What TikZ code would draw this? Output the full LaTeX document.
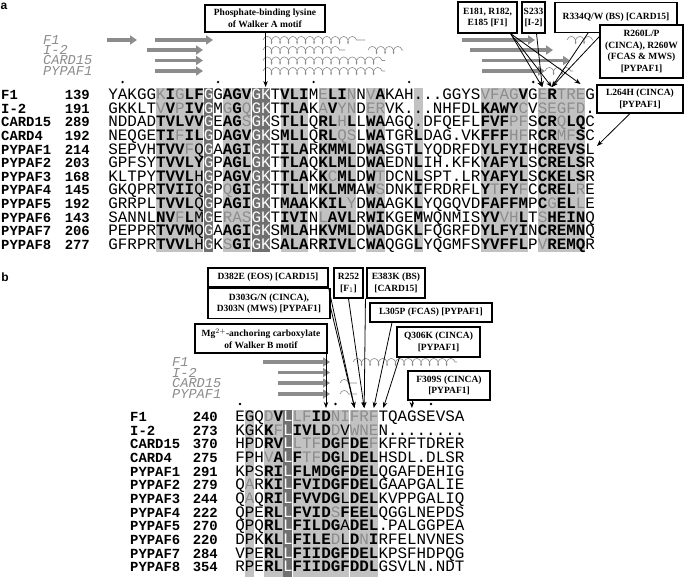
\documentclass[tikz,border=0pt]{standalone}
\usepackage{fontspec}
\usetikzlibrary{arrows.meta,decorations.pathmorphing}
\newfontfamily\seqf{Liberation Mono}
\newfontfamily\boxf{Liberation Serif}
\newfontfamily\panf{Liberation Sans}
\definecolor{bandlt}{gray}{0.76}
\definecolor{banddk}{gray}{0.44}
\definecolor{resgray}{gray}{0.55}
\definecolor{ssgray}{gray}{0.55}
\newcommand\rbf[1]{\textbf{#1}}
\newcommand\rgr[1]{\textcolor{resgray}{#1}}
\newcommand\rwt[1]{\textcolor{white}{#1}}

\begin{document}
\begin{tikzpicture}[x=1pt, y=-1pt,
  seq/.style={anchor=base west, inner sep=0pt, font=\seqf\fontsize{15.9}{16}\selectfont},
  seqname/.style={anchor=base west, inner sep=0pt, font=\seqf\bfseries\fontsize{13.9}{14}\selectfont},
  seqnum/.style={seqname, anchor=base east},
  sslabel/.style={anchor=west, inner sep=0pt, text=ssgray, font=\seqf\itshape\fontsize{13.6}{14}\selectfont},
  strand/.style={draw=ssgray, line width=3.2pt, -{Triangle[length=7pt,width=9pt]}},
  helix/.style={draw=ssgray, line width=0.6pt, decorate, decoration={coil, aspect=0.6, segment length=8.5pt, amplitude=3.6pt}},
  callout/.style={draw, line width=1.1pt, fill=white, align=center, inner sep=1pt, font=\boxf\bfseries\fontsize{9.5}{11.5}\selectfont},
  pointer/.style={draw, line width=0.8pt, -{Stealth[length=6pt,width=4.5pt]}},
  panel/.style={inner sep=0pt, font=\panf\bfseries\fontsize{12}{12}\selectfont},
  dot/.style={circle, fill, inner sep=0pt, minimum size=2.6pt}]
\useasboundingbox (0,0) rectangle (685,576);
\fill[white] (0,0) rectangle (685,576);

% ---- panel a ----
\node[panel] (pa) at (4,6) {a};

% column shading
\foreach \c/\w in {6/5,13/3,19/3,23/4,28/2,33/1,40/5,46/5}
  \fill[bandlt] ({108.6+(\c-1)*9.55},87.5) rectangle ++({\w*9.55-0.8},164);
\foreach \c/\w in {11/1,16/2}
  \fill[banddk] ({108.6+(\c-1)*9.55},87.5) rectangle ++({\w*9.55-0.8},164);

% secondary structure
\node[sslabel] (ssa1) at (43,40) {F1};
\node[sslabel] (ssa2) at (43,50) {I-2};
\node[sslabel] (ssa3) at (43,60.5) {CARD15};
\node[sslabel] (ssa4) at (43,71) {PYPAF1};
\draw[strand] (107,40) -- (137,40);
\draw[strand] (155,40) -- (213,40);
\draw[strand] (147,50) -- (203,50);
\draw[strand] (155,60.5) -- (203,60.5);
\draw[strand] (155,71) -- (203,71);
\draw[strand] (462,40) -- (535,40);
\draw[strand] (470,50) -- (553,50);
\draw[strand] (482,60.5) -- (570,60.5);
\draw[strand] (482,71) -- (545,71);
\draw[helix] (263,40) -- (365,40);
\draw[helix] (263,50) -- (345,50);
\draw[helix] (368,50) -- (403,50);
\draw[helix] (263,60.5) -- (385,60.5);
\draw[helix] (263,71) -- (385,71);
\draw[helix] (567,40) -- (593,40);
\draw[helix] (545,71) -- (573,71);

\foreach \c in {2,12,22,32,45}
  \node[dot] (da\c) at ({113+(\c-1)*9.55},82) {};

% alignment
\foreach \nm/\num [count=\i from 0] in {F1/139,I-2/191,CARD15/289,CARD4/192,PYPAF1/214,PYPAF2/203,PYPAF3/168,PYPAF4/145,PYPAF5/192,PYPAF6/143,PYPAF7/206,PYPAF8/277}
{
  \node[seqname] (na\i) at (1,{99.6+13.6*\i}) {\nm};
  \node[seqnum] (ia\i) at (90,{99.6+13.6*\i}) {\num};
}
\node[seq] (sa0) at (108.2,99.6) {YAKGG\rgr{K}\rbf{I}\rgr{G}\rbf{LF}\rwt{G}G\rbf{AGV}\rwt{GK}T\rbf{VLI}M\rgr{E}\rbf{LI}\rgr{N}N\rgr{V}\rbf{A}KAH...GGYS\rgr{VFAG}\rbf{V}G\rgr{E}\rbf{R}\rgr{TRE}G};
\node[seq] (sa1) at (108.2,113.2) {GKKLT\rgr{V}\rbf{V}\rgr{P}\rbf{IV}\rwt{G}M\rgr{G}\rbf{G}\rgr{Q}\rwt{GK}T\rbf{TLA}K\rgr{A}\rbf{V}\rgr{YN}D\rgr{ER}VK...NHFDL\rbf{KAWY}\rgr{C}V\rgr{SEGFD}.};
\node[seq] (sa2) at (108.2,126.8) {NDDAD\rbf{TVLVV}\rwt{G}E\rbf{AG}\rgr{S}\rwt{GK}S\rbf{TLL}Q\rbf{RL}\rgr{H}\rbf{L}L\rbf{WA}AGQ.DFQEFL\rbf{FVF}\rgr{PF}S\rbf{CR}\rgr{Q}\rbf{LQ}C};
\node[seq] (sa3) at (108.2,140.4) {NEQGE\rbf{TI}\rgr{F}\rbf{IL}\rwt{G}D\rbf{AGV}\rwt{GK}S\rbf{MLL}Q\rbf{RL}\rgr{QS}L\rbf{WA}TGR\rbf{L}DAG.VK\rbf{FFF}\rgr{HF}R\rbf{CR}\rgr{MF}\rbf{S}C};
\node[seq] (sa4) at (108.2,154.0) {SEPVH\rbf{TVV}\rgr{F}Q\rwt{G}A\rbf{AGI}\rwt{GK}T\rbf{ILA}R\rbf{KMML}D\rbf{WA}SGT\rbf{L}YQDRFD\rbf{YLFYI}H\rbf{CREVS}L};
\node[seq] (sa5) at (108.2,167.6) {GPFSY\rbf{TVVLY}\rwt{G}P\rbf{AGL}\rwt{GK}T\rbf{TLA}Q\rbf{KLML}D\rbf{WA}EDN\rbf{L}IH.KFK\rbf{YAFYL}S\rbf{CRELS}R};
\node[seq] (sa6) at (108.2,181.2) {KLTPY\rbf{TVVL}H\rwt{G}P\rbf{AGV}\rwt{GK}T\rbf{TLA}K\rbf{K}\rgr{C}\rbf{ML}D\rbf{W}\rgr{T}DCN\rbf{L}SPT.LR\rbf{YAFYL}S\rbf{CKELS}R};
\node[seq] (sa7) at (108.2,194.8) {GKQPR\rbf{TVII}Q\rwt{G}P\rgr{Q}\rbf{GI}\rwt{GK}T\rbf{TLL}M\rbf{KLMM}A\rbf{W}\rgr{S}DNK\rbf{I}FRDRFL\rbf{Y}\rgr{T}\rbf{FY}\rgr{F}C\rbf{CREL}\rgr{R}E};
\node[seq] (sa8) at (108.2,208.4) {GRRPL\rbf{TVVL}Q\rwt{G}P\rbf{AGI}\rwt{GK}T\rbf{MAA}K\rbf{KIL}\rgr{Y}D\rbf{WA}AGK\rbf{L}YQGQVD\rbf{FAFFM}P\rbf{C}\rgr{G}\rbf{EL}\rgr{L}E};
\node[seq] (sa9) at (108.2,222.0) {SANNL\rbf{NV}\rgr{F}\rbf{L}M\rwt{G}E\rgr{RAS}\rwt{GK}T\rbf{IVI}N\rgr{L}\rbf{AVL}R\rbf{WI}KGE\rbf{M}WQNMIS\rbf{YV}\rgr{VH}\rbf{L}T\rgr{S}\rbf{HEIN}Q};
\node[seq] (sa10) at (108.2,235.6) {PEPPR\rbf{TVVM}Q\rwt{G}A\rbf{AGI}\rwt{GK}S\rbf{MLA}H\rbf{KVML}D\rbf{WA}DGK\rbf{L}FQGRFD\rbf{YLFYI}N\rbf{CREMN}Q};
\node[seq] (sa11) at (108.2,249.2) {GFRPR\rbf{TVVL}H\rwt{G}K\rgr{S}\rbf{GI}\rwt{GK}S\rbf{ALA}R\rbf{RIVL}C\rbf{WA}QGG\rbf{L}YQGMFS\rbf{YVFFL}P\rgr{V}\rbf{REMQ}R};

% callouts
\node[callout, minimum width=120pt, minimum height=27pt] (walkA) at (265,18.5) {Phosphate-binding lysine\\of Walker A motif};
\node[callout, minimum width=59pt, minimum height=31pt] (e181) at (487.5,17.5) {E181, R182,\\E185 [F1]};
\node[callout, minimum width=23pt, minimum height=31pt] (s233) at (533.5,17.5) {S233\\{}[I-2]};
\node[callout, minimum width=122pt, minimum height=30pt] (r334) at (616,17.5) {R334Q/W (BS) [CARD15]};
\node[callout, minimum width=83pt, minimum height=53pt] (r260) at (641.5,51.5) {R260L/P\\(CINCA), R260W\\(FCAS \& MWS)\\{}[PYPAF1]};
\node[callout, minimum width=86pt, minimum height=28pt] (l264) at (640,99) {L264H (CINCA)\\{}[PYPAF1]};

\coordinate (kA) at (265.6,87);
\coordinate (c46) at (542.3,87);
\coordinate (c47) at (551.8,87);
\coordinate (c50) at (580.5,84);
\coordinate (c51) at (597,146);
\draw[pointer] (walkA.south -| kA) -- (kA);
\draw[pointer] ([xshift=-7pt]e181.south east) -- (c46);
\draw[pointer] ([xshift=-7pt]e181.south east) -- (c47);
\draw[pointer] ([xshift=-7pt]e181.south east) -- (c50);
\draw[pointer] ([xshift=3pt]s233.south) -- (c46);
\draw[pointer] ([xshift=-28pt]r334.south) -- (c47);
\draw[pointer] ([yshift=-12pt]r260.north west) -- (c47);
\draw[pointer] ([xshift=-10pt]l264.south) -- (c51);

% ---- panel b ----
\node[panel] (pb) at (5,277) {b};

\foreach \c/\w in {2/1,4/2,7/6,13/3}
  \fill[bandlt] ({235.6+(\c-1)*9.55},409.5) rectangle ++({\w*9.55-0.8},167);
\fill[banddk] ({235.6+5*9.55},409.5) rectangle ++(8.75,167);

\node[sslabel] (ssb1) at (172,362) {F1};
\node[sslabel] (ssb2) at (172,372.5) {I-2};
\node[sslabel] (ssb3) at (172,383) {CARD15};
\node[sslabel] (ssb4) at (172,394) {PYPAF1};
\draw[strand] (263,362) -- (330,362);
\draw[strand] (278,372.5) -- (330,372.5);
\draw[strand] (278,383) -- (330,383);
\draw[strand] (278,394) -- (330,394);
\draw[helix] (353,362) -- (457,362);
\draw[helix] (340,383) -- (357,383);
\draw[helix] (340,394) -- (357,394);

\foreach \c in {1,11,21}
  \node[dot] (db\c) at ({240+(\c-1)*9.55},404) {};

\foreach \nm/\num [count=\i from 0] in {F1/240,I-2/273,CARD15/370,CARD4/275,PYPAF1/291,PYPAF2/279,PYPAF3/244,PYPAF4/222,PYPAF5/270,PYPAF6/220,PYPAF7/284,PYPAF8/354}
{
  \node[seqname] (nb\i) at (130,{421.6+13.64*\i}) {\nm};
  \node[seqnum] (ib\i) at (218,{421.6+13.64*\i}) {\num};
}
\node[seq] (sb0) at (235.2,421.6) {EGQ\rgr{D}\rbf{V}\rwt{L}\rgr{LF}\rbf{ID}\rgr{NI}\rgr{FRF}TQAGSEVSA};
\node[seq] (sb1) at (235.2,435.2) {KGK\rbf{K}\rgr{F}\rwt{L}\rbf{IVLD}\rgr{D}V\rgr{WNE}N........};
\node[seq] (sb2) at (235.2,448.9) {HPD\rbf{RV}\rwt{L}\rgr{LTF}\rbf{DG}F\rbf{DE}\rgr{F}KFRFTDRER};
\node[seq] (sb3) at (235.2,462.5) {FPH\rgr{V}\rbf{A}\rwt{L}\rbf{F}\rgr{TF}\rbf{DG}L\rbf{DEL}HSDL.DLSR};
\node[seq] (sb4) at (235.2,476.2) {KPS\rbf{RI}\rwt{L}\rbf{FLMDGF}\rbf{DEL}QGAFDEHIG};
\node[seq] (sb5) at (235.2,489.8) {Q\rgr{A}R\rbf{KI}\rwt{L}\rbf{FVIDGF}\rbf{DEL}GAAPGALIE};
\node[seq] (sb6) at (235.2,503.4) {Q\rgr{A}Q\rbf{RI}\rwt{L}\rbf{FVVDG}L\rbf{DEL}KVPPGALIQ};
\node[seq] (sb7) at (235.2,517.1) {QPE\rbf{RL}\rwt{L}\rbf{FVID}\rgr{S}\rbf{F}\rbf{EEL}QGGLNEPDS};
\node[seq] (sb8) at (235.2,530.7) {QPQ\rbf{RL}\rwt{L}\rbf{FILDG}A\rbf{DEL}.PALGGPEA};
\node[seq] (sb9) at (235.2,544.4) {DPK\rbf{KL}\rwt{L}\rbf{FILE}\rgr{D}L\rbf{D}\rgr{N}\rbf{I}RFELNVNES};
\node[seq] (sb10) at (235.2,558.0) {VPE\rbf{RL}\rwt{L}\rbf{FIIDGF}\rbf{DEL}KPSFHDPQG};
\node[seq] (sb11) at (235.2,571.6) {RPE\rbf{RL}\rwt{L}\rbf{FIIDGF}\rbf{DDL}GSVLN.NDT};

\node[callout, minimum width=120pt, minimum height=19pt] (d382) at (268,277.5) {D382E (EOS) [CARD15]};
\node[callout, minimum width=29pt, minimum height=30pt] (r252) at (348.5,283) {R252\\{}[F$_1$]};
\node[callout, minimum width=58pt, minimum height=30pt] (e383) at (396,283) {E383K (BS)\\{}[CARD15]};
\node[callout, minimum width=122pt, minimum height=30pt] (d303) at (269,303.5) {D303G/N (CINCA),\\D303N (MWS) [PYPAF1]};
\node[callout, minimum width=122pt, minimum height=19pt] (l305) at (431,312.5) {L305P (FCAS) [PYPAF1]};
\node[callout, minimum width=132pt, minimum height=29pt] (mgB) at (261,338.5) {Mg$^{2+}$-anchoring carboxylate\\of Walker B motif};
\node[callout, minimum width=83pt, minimum height=30pt] (q306) at (438.5,342) {Q306K (CINCA)\\{}[PYPAF1]};
\node[callout, minimum width=82pt, minimum height=29pt] (f309) at (449,385.5) {F309S (CINCA)\\{}[PYPAF1]};

\coordinate (b10) at (326,408);
\coordinate (b13) at (354.6,408);
\coordinate (b14) at (364.2,408);
\coordinate (b15) at (373.7,408);
\coordinate (b16) at (383.3,408);
\coordinate (b19) at (411.9,408);
\draw[pointer] (mgB.south -| b10) -- (b10);
\draw[pointer] (d382.south east) -- (b13);
\draw[pointer] ([yshift=-4pt]d303.east) -- (b13);
\draw[pointer] (r252.south) -- (b14);
\draw[pointer] ([xshift=-1pt]e383.south west) -- (b14);
\draw[pointer] ([xshift=-39pt]l305.south) -- (b15);
\draw[pointer] ([xshift=3pt]q306.south west) -- (b16);
\draw[pointer] (f309.south -| b19) -- (b19);
\end{tikzpicture}
\end{document}
